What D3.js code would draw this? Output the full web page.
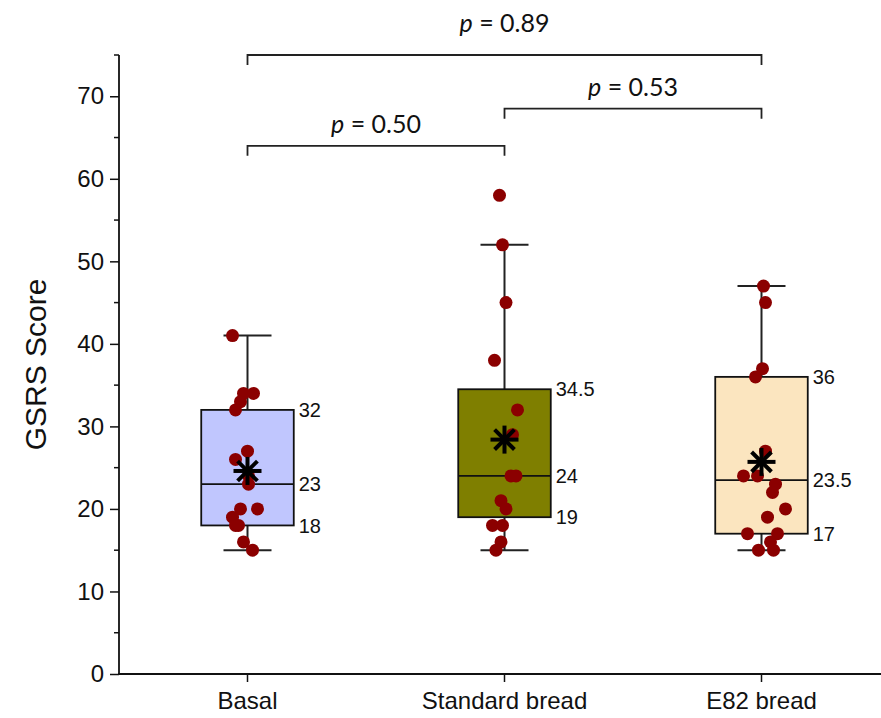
<!DOCTYPE html>
<html>
<head>
<meta charset="utf-8">
<script src="https://cdn.jsdelivr.net/npm/d3@7"></script>
<style>
  body { margin: 0; background: #fff; }
  svg text { font-family: "Liberation Sans", Arial, sans-serif; fill: #111; }
  .pval { font-family: Lato, "Open Sans", sans-serif; }
</style>
</head>
<body>
<div id="chart"></div>
<script>
// groups on the x axis
const groups = ["Basal", "Standard bread", "E82 bread"];
const boxFills = ["#c0c6fe", "#7f7f00", "#fbe5bf"];

// box statistics
const q1 = [18, 19, 17];
const medians = [23, 24, 23.5];
const q3 = [32, 34.5, 36];
const whiskLow = [15, 15, 15];
const whiskHigh = [41, 52, 47];
const means = [24.6, 28.4, 25.7];
const q3Labels = ["32", "34.5", "36"];
const medLabels = ["23", "24", "23.5"];
const q1Labels = ["18", "19", "17"];

// individual scores per group, with the horizontal scatter seen in the picture (px)
const basalScores = [41, 34, 34, 33, 32, 27, 26, 24, 23, 20, 20, 19, 18, 18, 16, 15];
const basalJitter = [-15, -4, 6, -7, -12, 0, -12, 1, 1, -7, 10, -15, -12, -9, -4, 5];
const standardScores = [58, 52, 45, 38, 32, 29, 24, 24, 21, 20, 18, 18, 16, 15];
const standardJitter = [-5, -2, 1.5, -10, 13, 8, 6.5, 11.5, -3.5, 1.5, -12, -2, -3.5, -8.5];
const e82Scores = [47, 45, 37, 36, 27, 24, 24, 23, 22, 20, 19, 17, 17, 16, 15, 15];
const e82Jitter = [2, 4, 1, -6, 4, -18, -4, 14, 11, 24, 6, -14, 16, 9, -3, 12];

// pairwise comparisons
const compFrom = [0, 1, 0];
const compTo = [1, 2, 2];
const compLevel = [64, 68.5, 75];
const compP = ["0.50", "0.53", "0.89"];
const compTextGap = [13, 13, 23];

const yTicks = [0, 10, 20, 30, 40, 50, 60, 70];
const yMinorTicks = [5, 15, 25, 35, 45, 55, 65, 75];

const width = 881, height = 718;
const axisLeft = 119, axisBottom = 674;

const svg = d3.select("#chart").append("svg")
  .attr("width", width)
  .attr("height", height);

const x = d3.scaleBand().domain(groups).range([axisLeft, 890]).padding(0);
const y = d3.scaleLinear().domain([0, 75]).range([axisBottom, 55]);
const cx = g => x(g) + x.bandwidth() / 2;
const boxW = x.bandwidth() * 0.36;
const capW = 48;

// y axis
const yAxis = d3.axisLeft(y).tickValues(yTicks).tickSize(9).tickPadding(6).tickSizeOuter(0);
const yG = svg.append("g").attr("transform", `translate(${axisLeft},0)`).call(yAxis);
yG.select(".domain").remove();
yG.selectAll(".tick line").attr("stroke", "#111").attr("stroke-width", 1.5);
yG.selectAll(".tick text").style("font-size", "24px").attr("fill", "#222");

svg.append("g").selectAll("line").data(yMinorTicks).join("line")
  .attr("x1", axisLeft - 5).attr("x2", axisLeft)
  .attr("y1", d => y(d)).attr("y2", d => y(d))
  .attr("stroke", "#111").attr("stroke-width", 1.5);

svg.append("line")
  .attr("x1", axisLeft).attr("x2", axisLeft)
  .attr("y1", y(0)).attr("y2", y(75))
  .attr("stroke", "#111").attr("stroke-width", 1.8);

// x axis
const xAxis = d3.axisBottom(x).tickSize(8).tickPadding(10).tickSizeOuter(0);
const xG = svg.append("g").attr("transform", `translate(0,${axisBottom})`).call(xAxis);
xG.select(".domain").remove();
xG.selectAll(".tick line").attr("stroke", "#111").attr("stroke-width", 1.5);
xG.selectAll(".tick text").style("font-size", "24px").attr("fill", "#222");

svg.append("line")
  .attr("x1", axisLeft - 1).attr("x2", width)
  .attr("y1", axisBottom).attr("y2", axisBottom)
  .attr("stroke", "#111").attr("stroke-width", 1.8);

// axis title
svg.append("text")
  .attr("transform", `translate(46,${(y(0) + y(75)) / 2}) rotate(-90)`)
  .attr("text-anchor", "middle")
  .style("font-size", "30px")
  .text("GSRS Score");

// boxes
const stats = groups.map((g, i) => ({
  g, i, q1: q1[i], med: medians[i], q3: q3[i], lo: whiskLow[i], hi: whiskHigh[i], mean: means[i]
}));

const boxG = svg.append("g").selectAll("g").data(stats).join("g");

boxG.append("line")
  .attr("x1", d => cx(d.g)).attr("x2", d => cx(d.g))
  .attr("y1", d => y(d.lo)).attr("y2", d => y(d.hi))
  .attr("stroke", "#222").attr("stroke-width", 2);

boxG.selectAll(".cap").data(d => [d.lo, d.hi].map(v => ({ g: d.g, v }))).join("line")
  .attr("class", "cap")
  .attr("x1", d => cx(d.g) - capW / 2).attr("x2", d => cx(d.g) + capW / 2)
  .attr("y1", d => y(d.v)).attr("y2", d => y(d.v))
  .attr("stroke", "#222").attr("stroke-width", 2);

boxG.append("rect")
  .attr("x", d => cx(d.g) - boxW / 2)
  .attr("y", d => y(d.q3))
  .attr("width", boxW)
  .attr("height", d => y(d.q1) - y(d.q3))
  .attr("fill", d => boxFills[d.i])
  .attr("stroke", "#111").attr("stroke-width", 1.8);

boxG.append("line")
  .attr("x1", d => cx(d.g) - boxW / 2).attr("x2", d => cx(d.g) + boxW / 2)
  .attr("y1", d => y(d.med)).attr("y2", d => y(d.med))
  .attr("stroke", "#111").attr("stroke-width", 1.8);

// quartile labels
const labelRows = stats.flatMap(d => [
  { g: d.g, v: d.q3, t: q3Labels[d.i] },
  { g: d.g, v: d.med, t: medLabels[d.i] },
  { g: d.g, v: d.q1, t: q1Labels[d.i] }
]);
svg.append("g").selectAll("text").data(labelRows).join("text")
  .attr("x", d => cx(d.g) + boxW / 2 + 5)
  .attr("y", d => y(d.v))
  .attr("dy", "0.36em")
  .style("font-size", "20px")
  .attr("fill", "#222")
  .text(d => d.t);

// individual points
const allScores = [basalScores, standardScores, e82Scores];
const allJitter = [basalJitter, standardJitter, e82Jitter];
const points = groups.flatMap((g, i) => allScores[i].map((v, j) => ({ g, v, dx: allJitter[i][j] })));

svg.append("g").selectAll("circle").data(points).join("circle")
  .attr("cx", d => cx(d.g) + d.dx)
  .attr("cy", d => y(d.v))
  .attr("r", 6.5)
  .attr("fill", "#8b0000");

// mean asterisks
const arm = 14;
const star = svg.append("g").selectAll("g").data(stats).join("g")
  .attr("transform", d => `translate(${cx(d.g)},${y(d.mean)})`);
[0, 45, 90, 135].forEach(a => {
  const r = a * Math.PI / 180;
  star.append("line")
    .attr("x1", -arm * Math.cos(r)).attr("y1", -arm * Math.sin(r))
    .attr("x2", arm * Math.cos(r)).attr("y2", arm * Math.sin(r))
    .attr("stroke", "#000").attr("stroke-width", 4).attr("stroke-linecap", "butt");
});

// significance brackets
const comps = compFrom.map((f, i) => ({ a: groups[f], b: groups[compTo[i]], lvl: compLevel[i], p: compP[i], gap: compTextGap[i] }));
const brG = svg.append("g").selectAll("g").data(comps).join("g");

brG.append("path")
  .attr("d", d => `M${cx(d.a)},${y(d.lvl) + 10}V${y(d.lvl)}H${cx(d.b)}V${y(d.lvl) + 10}`)
  .attr("fill", "none").attr("stroke", "#222").attr("stroke-width", 1.8);

const pText = brG.append("text")
  .attr("class", "pval")
  .attr("x", d => (cx(d.a) + cx(d.b)) / 2)
  .attr("y", d => y(d.lvl) - d.gap)
  .attr("text-anchor", "middle")
  .style("font-size", "25px");
pText.append("tspan").style("font-style", "italic").text("p");
pText.append("tspan").text(d => " = " + d.p);
</script>
</body>
</html>
